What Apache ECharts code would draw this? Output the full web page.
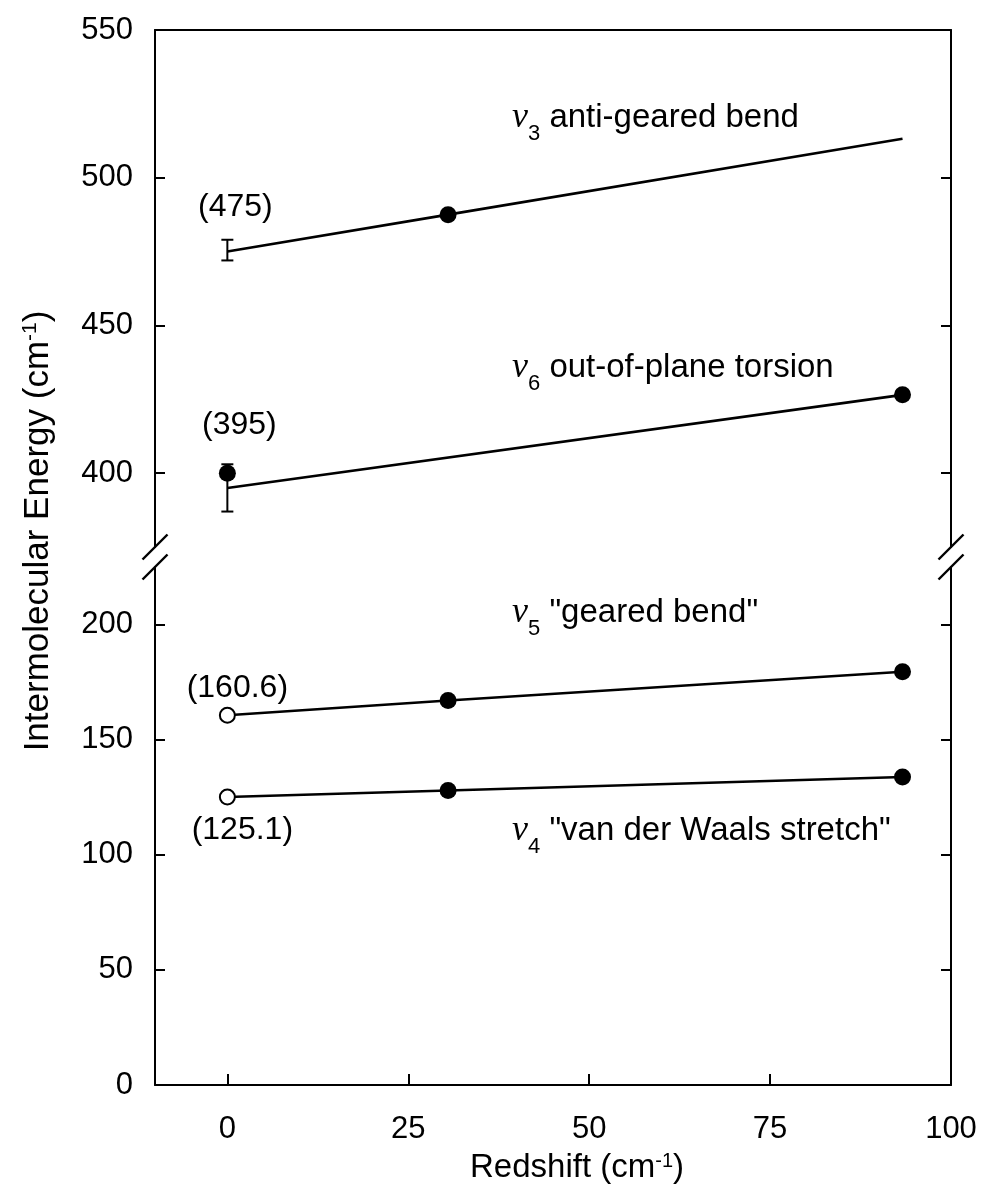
<!DOCTYPE html>
<html>
<head>
<meta charset="utf-8">
<script src="https://cdn.jsdelivr.net/npm/echarts@6/dist/echarts.min.js"></script>
<style>
  html, body { margin: 0; padding: 0; background: #fff; }
  #chart { width: 984px; height: 1191px; }
</style>
</head>
<body>
<div id="chart"></div>
<script>
// ---- data (energies and redshifts in cm^-1) ----
const redshift = [0, 30.5, 93.3];
const nu3 = [475, 487.5, 513.2];          // anti-geared bend
const nu5 = [160.6, 167.0, 179.5];        // geared bend
const nu4 = [125.1, 127.9, 133.8];        // van der Waals stretch
const nu6Redshift = [0, 93.3];
const nu6 = [395, 426.5];                 // out-of-plane torsion (fit line)
const nu6Measured = [[0, 400], [93.3, 426.5]];
const nu3ErrorBar = [0, 472, 479];        // [redshift, low, high]
const nu6ErrorBar = [0, 387, 403];
const xTicks = [0, 25, 50, 75, 100];
const yTicksUpper = [400, 450, 500, 550];
const yTicksLower = [0, 50, 100, 150, 200];

// ---- layout ----
const FONT = '"Liberation Sans", Arial, Helvetica, sans-serif';
const SERIF = '"Liberation Serif", "Times New Roman", serif';
const LEFT = 155, RIGHT_EDGE = 951;
const UPPER = { top: 30, height: 517 };
const LOWER = { top: 567, height: 518 };
const TICK_FONT = 31, VALUE_FONT = 32, ANN_FONT = 33, TITLE_FONT = 33, YTITLE_FONT = 35;

const pts = (xs, ys) => xs.map((x, i) => [x, ys[i]]);

function errorBar(params, api) {
  const x = api.value(0);
  const lo = api.coord([x, api.value(1)]);
  const hi = api.coord([x, api.value(2)]);
  const w = 6;
  const style = { stroke: '#000', lineWidth: 2 };
  return {
    type: 'group',
    children: [
      { type: 'line', shape: { x1: lo[0], y1: lo[1], x2: hi[0], y2: hi[1] }, style },
      { type: 'line', shape: { x1: lo[0] - w, y1: lo[1], x2: lo[0] + w, y2: lo[1] }, style },
      { type: 'line', shape: { x1: hi[0] - w, y1: hi[1], x2: hi[0] + w, y2: hi[1] }, style }
    ]
  };
}

const lineStyle = { color: '#000', width: 2.6 };

function fitLine(data, g) {
  return { type: 'line', xAxisIndex: g, yAxisIndex: g * 2, data, symbol: 'none',
           lineStyle, silent: true, z: 2 };
}
function dots(data, g, open) {
  return { type: 'scatter', xAxisIndex: g, yAxisIndex: g * 2, data, symbol: 'circle',
           symbolSize: open ? 15 : 17, silent: true, z: 3,
           itemStyle: open
             ? { color: '#fff', borderColor: '#000', borderWidth: 2, opacity: 1 }
             : { color: '#000', opacity: 1 } };
}
function valueLabel(x, y, g, dx, dy) {
  return { type: 'scatter', xAxisIndex: g, yAxisIndex: g * 2, symbolSize: 1, silent: true,
           itemStyle: { color: 'rgba(0,0,0,0)', opacity: 1 },
           data: [[x, y]],
           label: { show: true, position: 'inside', offset: [dx, dy], color: '#000',
                    opacity: 1, fontFamily: FONT, fontSize: VALUE_FONT,
                    formatter: p => '(' + p.value[1] + ')' } };
}

const annRich = {
  nu: { fontFamily: SERIF, fontStyle: 'italic', fontSize: 36, fill: '#000' },
  sub: { fontFamily: FONT, fontSize: 22, fill: '#000', padding: [32, 0, 0, 0] }
};
function annotation(x, y, idx, text) {
  return { type: 'text', x, y, silent: true,
           style: { text: '{nu|ν}{sub|' + idx + '} ' + text, fill: '#000',
                    fontFamily: FONT, fontSize: ANN_FONT, align: 'left',
                    verticalAlign: 'middle', rich: annRich } };
}

function titleText(x, y, size, rotation, text) {
  return { type: 'text', x, y, rotation, silent: true,
           style: { text, fill: '#000', fontFamily: FONT, fontSize: size,
                    align: 'center', verticalAlign: 'middle',
                    rich: { sup: { fontFamily: FONT, fontSize: Math.round(size * 0.6),
                                   fill: '#000', padding: [0, 0, Math.round(size * 0.42), 0] } } } };
}
function breakMark(cx, cy) {
  return { type: 'line', silent: true,
           shape: { x1: cx - 12.5, y1: cy + 12.5, x2: cx + 12.5, y2: cy - 12.5 },
           style: { stroke: '#000', lineWidth: 2.4 } };
}
const upperBottom = UPPER.top + UPPER.height;

function yAxis(g, min, max, ticks, pos, labels) {
  return {
    type: 'value', gridIndex: g, position: pos, min, max,
    axisLine: { show: true, onZero: false, lineStyle: { color: '#000', width: 2 } },
    axisTick: { show: true, inside: true, length: 10, customValues: ticks,
                lineStyle: { color: '#000', width: 2 } },
    axisLabel: { show: labels, customValues: ticks, margin: 22, color: '#000',
                 fontFamily: FONT, fontSize: TICK_FONT },
    splitLine: { show: false }
  };
}

const option = {
  backgroundColor: '#fff',
  animation: false,
  grid: [
    { left: LEFT, right: 984 - RIGHT_EDGE, top: UPPER.top, height: UPPER.height },
    { left: LEFT, right: 984 - RIGHT_EDGE, top: LOWER.top, height: LOWER.height }
  ],
  xAxis: [
    { type: 'value', gridIndex: 0, position: 'top', min: -10, max: 100,
      axisLine: { show: true, onZero: false, lineStyle: { color: '#000', width: 2 } },
      axisTick: { show: false }, axisLabel: { show: false }, splitLine: { show: false } },
    { type: 'value', gridIndex: 1, position: 'bottom', min: -10, max: 100,
      axisLine: { show: true, onZero: false, lineStyle: { color: '#000', width: 2 } },
      axisTick: { show: true, inside: true, length: 11, customValues: xTicks,
                  lineStyle: { color: '#000', width: 2 } },
      axisLabel: { customValues: xTicks, margin: 29, color: '#000',
                   fontFamily: FONT, fontSize: TICK_FONT },
      splitLine: { show: false } }
  ],
  yAxis: [
    yAxis(0, 375, 550, yTicksUpper, 'left', true),
    yAxis(0, 375, 550, yTicksUpper, 'right', false),
    yAxis(1, 0, 225, yTicksLower, 'left', true),
    yAxis(1, 0, 225, yTicksLower, 'right', false)
  ],
  series: [
    fitLine(pts(redshift, nu3), 0),
    fitLine(pts(nu6Redshift, nu6), 0),
    dots([[redshift[1], nu3[1]]], 0, false),
    dots(nu6Measured, 0, false),
    { type: 'custom', xAxisIndex: 0, yAxisIndex: 0, renderItem: errorBar, silent: true,
      data: [nu3ErrorBar, nu6ErrorBar], z: 4 },
    valueLabel(redshift[0], nu3[0], 0, 8, -44),
    valueLabel(nu6Redshift[0], nu6[0], 0, 12, -63),

    fitLine(pts(redshift, nu5), 1),
    fitLine(pts(redshift, nu4), 1),
    dots([[redshift[1], nu5[1]], [redshift[2], nu5[2]],
          [redshift[1], nu4[1]], [redshift[2], nu4[2]]], 1, false),
    dots([[redshift[0], nu5[0]], [redshift[0], nu4[0]]], 1, true),
    valueLabel(redshift[0], nu5[0], 1, 10, -27),
    valueLabel(redshift[0], nu4[0], 1, 15, 33)
  ],
  graphic: [
    annotation(512, 118, 3, 'anti-geared bend'),
    annotation(512, 368, 6, 'out-of-plane torsion'),
    annotation(512, 613, 5, '"geared bend"'),
    annotation(512, 831, 4, '"van der Waals stretch"'),
    titleText(38, 531, YTITLE_FONT, Math.PI / 2, 'Intermolecular Energy (cm{sup|-1})'),
    titleText(577, 1168, TITLE_FONT, 0, 'Redshift (cm{sup|-1})'),
    breakMark(LEFT, upperBottom), breakMark(LEFT, LOWER.top),
    breakMark(RIGHT_EDGE, upperBottom), breakMark(RIGHT_EDGE, LOWER.top)
  ]
};

const chart = echarts.init(document.getElementById('chart'));
chart.setOption(option);
</script>
</body>
</html>
